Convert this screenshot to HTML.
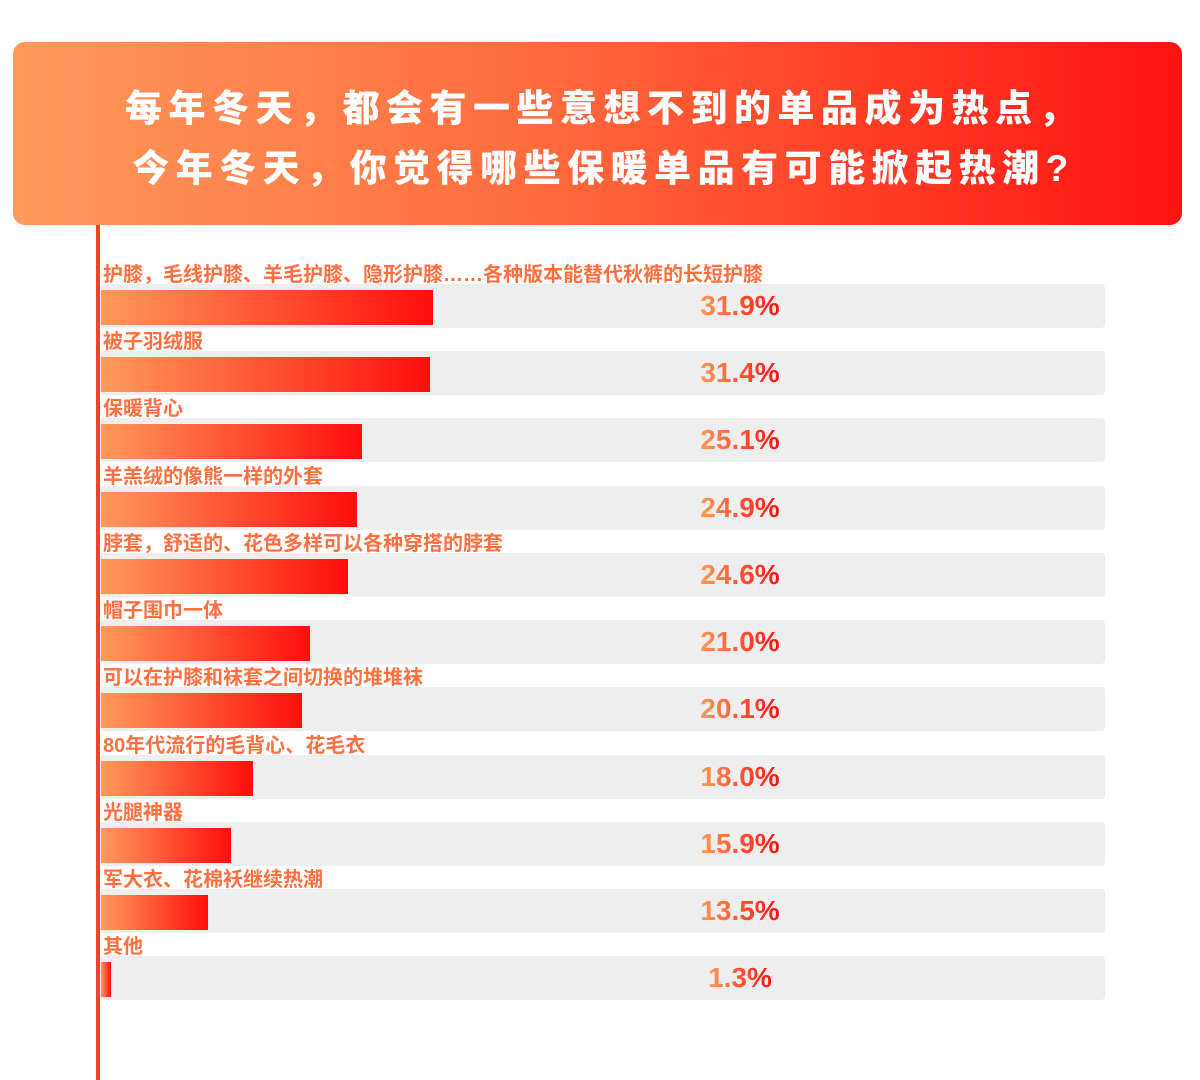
<!DOCTYPE html>
<html><head><meta charset="utf-8"><style>
*{margin:0;padding:0;box-sizing:border-box}
body{width:1200px;height:1080px;background:#fff;position:relative;overflow:hidden;font-family:"Liberation Sans","Noto Sans CJK SC",sans-serif}
.hdr{position:absolute;left:13px;top:42px;width:1169px;height:183px;border-radius:12px;background:linear-gradient(90deg,#fe9a5b 0%,#ff6b3d 45%,#ff1212 100%)}
.t{position:absolute;left:0;width:1169px;text-align:center;color:#fff;font-weight:900;font-size:37px;letter-spacing:6.5px;line-height:44px;padding-left:12px}
.vl{position:absolute;left:96px;top:225px;width:4px;height:855px;background:#f2432a}
.row{position:absolute;left:100px;width:1005px}
.lab{position:absolute;left:3px;top:-21px;font-size:20px;font-weight:700;color:#ff6f3f;white-space:nowrap;line-height:24px}
.bg{position:absolute;left:0;top:0;width:1005px;height:44px;background:#eeeeee;border-radius:4px}
.bar{position:absolute;left:1px;top:6px;height:35px;background:linear-gradient(90deg,#fe9a5b,#ff0d0d)}
.pct{position:absolute;left:540px;width:200px;top:2px;text-align:center;line-height:40px}
.pct span{font-size:28px;font-weight:700;background:linear-gradient(90deg,#ff9a55,#ff1010);-webkit-background-clip:text;background-clip:text;color:transparent}
</style></head><body>
<div class="hdr">
<div class="t" style="top:45px">每年冬天，都会有一些意想不到的单品成为热点，</div>
<div class="t" style="top:105px">今年冬天，你觉得哪些保暖单品有可能掀起热潮?</div>
</div>
<div class="vl"></div>
<div class="row" style="top:284px"><div class="bg"></div><div class="bar" style="width:332px"></div><div class="lab">护膝，毛线护膝、羊毛护膝、隐形护膝……各种版本能替代秋裤的长短护膝</div><div class="pct"><span>31.9%</span></div></div>
<div class="row" style="top:351px"><div class="bg"></div><div class="bar" style="width:329px"></div><div class="lab">被子羽绒服</div><div class="pct"><span>31.4%</span></div></div>
<div class="row" style="top:418px"><div class="bg"></div><div class="bar" style="width:261px"></div><div class="lab">保暖背心</div><div class="pct"><span>25.1%</span></div></div>
<div class="row" style="top:486px"><div class="bg"></div><div class="bar" style="width:256px"></div><div class="lab">羊羔绒的像熊一样的外套</div><div class="pct"><span>24.9%</span></div></div>
<div class="row" style="top:553px"><div class="bg"></div><div class="bar" style="width:247px"></div><div class="lab">脖套，舒适的、花色多样可以各种穿搭的脖套</div><div class="pct"><span>24.6%</span></div></div>
<div class="row" style="top:620px"><div class="bg"></div><div class="bar" style="width:209px"></div><div class="lab">帽子围巾一体</div><div class="pct"><span>21.0%</span></div></div>
<div class="row" style="top:687px"><div class="bg"></div><div class="bar" style="width:201px"></div><div class="lab">可以在护膝和袜套之间切换的堆堆袜</div><div class="pct"><span>20.1%</span></div></div>
<div class="row" style="top:755px"><div class="bg"></div><div class="bar" style="width:152px"></div><div class="lab">80年代流行的毛背心、花毛衣</div><div class="pct"><span>18.0%</span></div></div>
<div class="row" style="top:822px"><div class="bg"></div><div class="bar" style="width:130px"></div><div class="lab">光腿神器</div><div class="pct"><span>15.9%</span></div></div>
<div class="row" style="top:889px"><div class="bg"></div><div class="bar" style="width:107px"></div><div class="lab">军大衣、花棉袄继续热潮</div><div class="pct"><span>13.5%</span></div></div>
<div class="row" style="top:956px"><div class="bg"></div><div class="bar" style="width:10px"></div><div class="lab">其他</div><div class="pct"><span>1.3%</span></div></div>
</body></html>
